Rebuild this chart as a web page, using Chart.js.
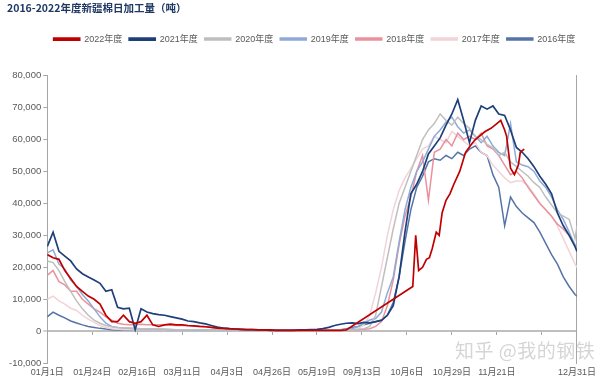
<!DOCTYPE html>
<html><head><meta charset="utf-8">
<script src="https://cdn.jsdelivr.net/npm/chart.js@4.4.0/dist/chart.umd.min.js"></script>
<style>
html,body{margin:0;padding:0;background:#fff;}
#wrap{position:relative;width:600px;height:380px;}
#wm{position:absolute;left:455px;top:336px;font:19px "Noto Sans CJK SC";color:rgba(185,185,185,0.6);letter-spacing:0.5px;white-space:nowrap;}
</style></head><body>
<div id="wrap"><canvas id="c" width="600" height="380"></canvas><div id="wm">知乎 @我的钢铁</div></div>
<script>
// Category positions (day index along the season axis) and tick labels
const tickDays = [0,23,46,69,92,115,138,161,184,207,230,253,271];
const tickLabels = ['01月1日','01月24日','02月16日','03月11日','04月3日','04月26日','05月19日','09月13日','10月6日','10月29日','11月21日','','12月31日'];

// Shared sample positions (day index)
const days = [0,3,6,9,12,15,18,21,24,27,30,33,36,39,42,45,48,51,54,57,60,63,66,69,72,75,78,81,84,87,90,93,96,99,102,105,108,111,114,117,120,123,126,129,132,135,138,141,144,147,150,153,156,159,162,165,168,171,174,177,180,183,186,189,192,195,198,201,204,207,210,213,216,219,222,225,228,231,234,237,240,243,246,249,252,255,258,261,264,267,270,271];

// Values in thousand tonnes
const y2021 = [26.5,31,25,23.5,22,19.5,18,17,16,15,12.5,13,7.5,7,7.2,0.5,7,6,5.5,5.2,5,4.6,4.2,3.8,3.2,3,2.6,2.3,1.8,1.3,1,0.8,0.7,0.6,0.5,0.5,0.4,0.4,0.3,0.3,0.3,0.3,0.3,0.4,0.4,0.5,0.6,0.8,1.2,1.8,2.2,2.5,2.6,2.4,2.8,2.6,3,3.4,5,8,17,31,43,46,50,55.5,58,60.5,64.5,68,72.5,66,59,66,70.5,69.5,70.5,68,67.5,63,57.5,56,54,51.5,48.5,46,43,37,33,30,26.5,25];
const y2020 = [22,21.5,19,15.5,12.5,9.5,7,5,3.5,2.5,1.8,1.4,1.2,1,1,0.9,0.8,0.8,0.7,0.7,0.6,0.6,0.5,0.5,0.5,0.5,0.5,0.5,0.4,0.4,0.4,0.4,0.4,0.4,0.4,0.3,0.3,0.3,0.3,0.3,0.3,0.3,0.3,0.3,0.3,0.3,0.3,0.3,0.3,0.3,0.3,0.4,0.5,0.6,0.8,1.5,5,14,23,32,40,45,50,55,60,63,65,68,66,64.5,67,65,63.5,61,60,58.5,57.5,55,56,53,51.5,50,48.5,46.5,45,42,39.5,37,36,35,29,33];
const y2019 = [24.5,25.5,21,19.5,16,14,11.5,9.5,7,4.5,2.5,1.5,1.2,1,0.9,0.8,0.8,0.7,0.7,0.6,0.6,0.5,0.5,0.5,0.5,0.4,0.4,0.4,0.4,0.4,0.3,0.3,0.3,0.3,0.3,0.3,0.3,0.3,0.3,0.3,0.3,0.3,0.3,0.3,0.3,0.3,0.3,0.3,0.3,0.3,0.3,0.5,0.8,1.5,2.5,3.5,4,6,12,17,28,38,45,50,53,57,61,63,65.5,67,64,62,63,61,59,61,58,56,55,65,53,52,51.5,50,47,45,42,38,35,31,27,26];
const y2018 = [17.5,19,15.5,14.5,12.5,12.5,10,8.5,7,6,4.5,3.5,2.5,2.2,2,2,2.2,2,2,2,2,1.9,1.8,1.8,1.7,1.6,1.5,1.4,1.2,1,0.9,0.8,0.7,0.6,0.5,0.5,0.5,0.4,0.4,0.4,0.4,0.4,0.3,0.3,0.3,0.3,0.3,0.3,0.3,0.3,0.3,0.4,0.4,0.5,0.6,0.8,1.5,3,8,16,27,36,42,50,55,41,56,57,60,58,62,60,61,60,62,58,57,55,52,49,50,48,45,42.5,40,38,36,33.5,32,30,27,26];
const y2017 = [10,11,9.5,8.5,7.2,6.5,5,3.8,2.8,1.8,1.2,0.8,0.6,0.5,0.5,0.4,0.4,0.4,0.4,0.4,0.4,0.4,0.4,0.4,0.4,0.4,0.4,0.4,0.3,0.3,0.3,0.3,0.3,0.3,0.3,0.3,0.3,0.3,0.3,0.3,0.3,0.3,0.3,0.3,0.3,0.3,0.3,0.3,0.3,0.3,0.3,0.4,0.5,0.8,2,5,12,20,30,38,44,48,51,54,57,58,61,60,59,62.5,61,59.5,58,59,56,55,52,50,48,46.5,47,47,45.5,43,40,38,36,33,29,25,21,20];
const y2016 = [4.5,6,5,4.2,3.2,2.6,2,1.5,1.2,0.9,0.7,0.5,0.4,0.3,0.3,0.3,0.3,0.3,0.3,0.3,0.3,0.3,0.3,0.3,0.3,0.3,0.3,0.3,0.3,0.3,0.3,0.3,0.3,0.3,0.3,0.3,0.3,0.3,0.3,0.3,0.3,0.3,0.3,0.3,0.3,0.3,0.3,0.3,0.3,0.3,0.5,0.8,1.2,1.5,2,2.5,3,3.5,5,9,17,28,38,45,48.5,53,54,53.5,55,54,56,55,57,58,56,55,49,45,33,42,39,37,35.5,34,31,27.5,24,21,17,14,11.5,11];

// 2022 season has its own sample positions (gap filled by a straight line)
const days2022 = [0,3,6,9,12,15,18,21,24,27,30,33,36,39,42,45,48,51,54,57,60,63,66,69,72,75,78,81,84,87,90,93,96,99,102,105,108,111,114,117,120,123,126,129,132,135,138,141,144,147,150,153,187,188.5,190,192,194,195.5,197,199,200.5,202,204,206,208,211,214,217,219,221,224,227,230,232,234,235,237,239,241,242,244];
const y2022 = [24,23,22.5,19,16.5,14,12.5,11,10,8.5,5,3,3,5,3,2.5,3,5,2,1.5,2,2.2,2,2,1.8,1.7,1.5,1.4,1.2,1,0.9,0.8,0.7,0.6,0.5,0.5,0.4,0.4,0.4,0.3,0.3,0.3,0.3,0.3,0.3,0.3,0.3,0.3,0.3,0.3,0.3,0.4,14,30,19,20,22.5,23,26,31,30,37,41,43,46,50,56,58.5,60,61,62.5,63.5,65,66,63,61,51,49,52,56,57];

const seriesNames = ['2022年度','2021年度','2020年度','2019年度','2018年度','2017年度','2016年度'];
const seriesColors = ['#c00000','#1f3f7a','#bfbfbf','#8eaad6','#e9929f','#f2d3d8','#5474a6'];

function pts(xs, ys){ return xs.map((d,i)=>({x:d, y:ys[i]*1000})); }
const dataSets = [
  pts(days2022,y2022), pts(days,y2021), pts(days,y2020), pts(days,y2019), pts(days,y2018), pts(days,y2017), pts(days,y2016)
];

const setTicks = s => { s.ticks = tickDays.map(v=>({value:v})); };

const legendSpace = {
  id:'legendSpace',
  beforeInit(chart){
    const orig = chart.legend.fit;
    chart.legend.fit = function(){ orig.call(this); this.height += 22; };
  },
  afterLayout(chart){ chart.legend.left += 36; }
};

new Chart(document.getElementById('c'), {
  type:'line',
  plugins:[legendSpace],
  data:{
    datasets: dataSets.map((d,i)=>({
      label: seriesNames[i], data:d, borderColor: seriesColors[i], backgroundColor: seriesColors[i],
      borderWidth: (i<2)?1.7:1.5, pointRadius:0, tension:0, fill:false
    }))
  },
  options:{
    responsive:false, animation:false,
    layout:{padding:{left:7,right:14,top:0,bottom:-2}},
    plugins:{
      title:{display:true,text:'2016-2022年度新疆棉日加工量（吨）',align:'start',color:'#1f3864',
        font:{family:'"Noto Sans CJK SC"',size:10.5,weight:'bold'},padding:{top:2,bottom:13}},
      legend:{display:true,position:'top',labels:{boxWidth:26,boxHeight:2,padding:7,color:'#595959',
        font:{size:9,family:'"Liberation Sans","Noto Sans CJK SC"'}}},
      tooltip:{enabled:false}
    },
    scales:{
      x:{type:'linear',min:0,max:271,afterBuildTicks:setTicks,
        ticks:{autoSkip:false,maxRotation:0,padding:4,color:'#595959',font:{size:9,family:'"Liberation Sans","Noto Sans CJK SC"'},
          callback:(v,i)=>tickLabels[i]},
        grid:{display:false,drawTicks:false,tickLength:0},border:{display:false}},
      x2:{type:'linear',axis:'x',min:0,max:271,position:{y:0},afterBuildTicks:setTicks,afterFit:s=>{s.height=0;},
        ticks:{display:false},grid:{drawOnChartArea:false,tickLength:4,color:'#a6a6a6'},border:{display:false}},
      y:{min:-10000,max:80000,
        ticks:{stepSize:10000,color:'#595959',padding:2,font:{size:9.5,family:'"Liberation Sans"'}},
        grid:{color:c=>c.tick&&c.tick.value===0?'#bfbfbf':'rgba(0,0,0,0)',lineWidth:c=>c.tick&&c.tick.value===0?2:1,
          tickLength:4,tickColor:'#a6a6a6',tickWidth:1},
        border:{display:true,color:'#a6a6a6',width:1}},
      y2:{position:'right',min:-10000,max:80000,ticks:{display:false},grid:{display:false},
        border:{display:true,color:'#a6a6a6',width:1}}
    }
  }
});
</script>
</body></html>
